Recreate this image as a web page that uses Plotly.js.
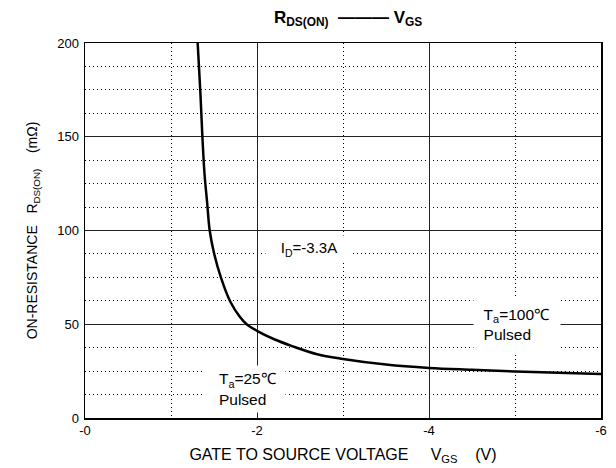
<!DOCTYPE html>
<html>
<head>
<meta charset="utf-8">
<script src="https://cdn.plot.ly/plotly-3.0.1.min.js"></script>
<style>html,body{margin:0;padding:0;background:#fff;}#chart{width:616px;height:468px;}</style>
</head>
<body>
<div id="chart"></div>
<script>
// Gate-to-source voltage (V) and on-resistance (mΩ)
const vgs = [-1.31, -1.34, -1.365, -1.39, -1.42, -1.45, -1.5, -1.58, -1.69, -1.8, -1.88, -2.0, -2.2, -2.4, -2.7, -3.0, -3.5, -4.0, -4.5, -5.0, -5.5, -6.0];
const rdsOn = [200, 175, 150, 130, 115, 100, 88, 75, 62, 54, 50, 46.5, 42, 38.5, 34, 31.5, 28.5, 26.7, 25.7, 24.8, 24.1, 23.5];

const xTickVals = [0, -2, -4, -6];
const xTickText = ["-0", "-2", "-4", "-6"];
const yTickVals = [0, 50, 100, 150, 200];

const FONT = "Liberation Sans, Arial, sans-serif";
const NB = "\u00A0";

const trace = {
  x: vgs, y: rdsOn, type: "scatter", mode: "lines",
  line: {color: "#000", width: 2.5, shape: "spline", smoothing: 1},
  hoverinfo: "skip", showlegend: false
};

const layout = {
  width: 616, height: 468,
  margin: {l: 85, r: 15, t: 43, b: 50},
  paper_bgcolor: "#fff", plot_bgcolor: "#fff",
  font: {family: FONT, color: "#000", size: 13},
  title: {
    text: "<b>R<sub>DS(ON)</sub>" + NB + NB + "———" + NB + "V<sub>GS</sub></b>",
    font: {family: FONT, size: 17, color: "#000"},
    x: 0.565, xanchor: "center", y: 0.964, yanchor: "middle", yref: "container"
  },
  xaxis: {
    range: [0, -6], autorange: false,
    tickmode: "array", tickvals: xTickVals, ticktext: xTickText,
    ticks: "", showline: true, mirror: true, linecolor: "#000", linewidth: 1.5,
    showgrid: true, gridcolor: "#222", gridwidth: 1,
    zeroline: false,
    minor: {tickmode: "linear", tick0: 0, dtick: 1, showgrid: true, gridcolor: "#000", gridwidth: 1, griddash: "1px,3px", ticks: ""},
    tickfont: {size: 13, family: FONT},
    title: {text: "GATE TO SOURCE VOLTAGE" + NB.repeat(5) + "V<sub>GS</sub>" + NB.repeat(4) + "(V)", font: {size: 16, family: FONT}, standoff: 11}
  },
  yaxis: {
    range: [0, 200], autorange: false,
    tickmode: "array", tickvals: yTickVals,
    ticks: "", showline: true, mirror: true, linecolor: "#000", linewidth: 1.5,
    showgrid: true, gridcolor: "#222", gridwidth: 1,
    zeroline: false, ticklabelstandoff: 2,
    minor: {tickmode: "linear", tick0: 0, dtick: 12.5, showgrid: true, gridcolor: "#000", gridwidth: 1, griddash: "1px,3px", ticks: ""},
    tickfont: {size: 13, family: FONT},
    title: {text: "ON-RESISTANCE" + NB.repeat(3) + "R<sub>DS(ON)</sub>" + NB.repeat(4) + "(mΩ)", font: {size: 14, family: FONT}, standoff: 16}
  },
  annotations: [
    {x: -2.6, y: 90, xref: "x", yref: "y", text: "I<sub>D</sub>=-3.3A", showarrow: false,
     font: {size: 15, family: FONT}, bgcolor: "#fff", width: 84, height: 24, borderpad: 1},
    {x: -1.86, y: 15.5, xref: "x", yref: "y",
     text: NB.repeat(3) + "T<sub>a</sub>=25℃<br>" + NB.repeat(3) + "Pulsed", align: "left", showarrow: false,
     font: {size: 15.5, family: FONT}, bgcolor: "#fff", width: 78, height: 44, borderpad: 1},
    {x: -5.02, y: 50, xref: "x", yref: "y",
     text: NB.repeat(2) + "T<sub>a</sub>=100℃<br>" + NB.repeat(2) + "Pulsed", align: "left", showarrow: false,
     font: {size: 15.5, family: FONT}, bgcolor: "#fff", width: 84, height: 53, borderpad: 1}
  ]
};

Plotly.newPlot("chart", [trace], layout, {displayModeBar: false, staticPlot: true});
</script>
</body>
</html>
